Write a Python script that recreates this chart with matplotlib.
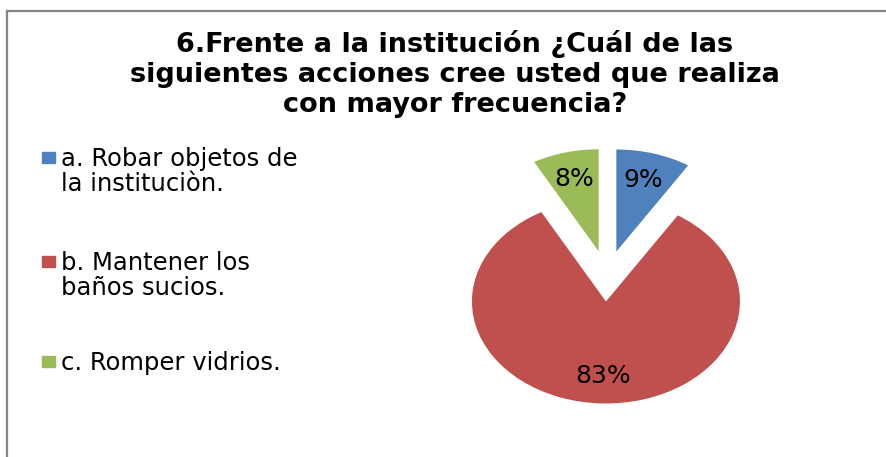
import matplotlib
matplotlib.use("Agg")
import matplotlib.pyplot as plt
from matplotlib.patches import Rectangle
from matplotlib.lines import Line2D

W, H = 887, 457

title = "6.Frente a la institución ¿Cuál de las\nsiguientes acciones cree usted que realiza\ncon mayor frecuencia?"
labels = ["a. Robar objetos de\nla instituciòn.", "b. Mantener los\nbaños sucios.", "c. Romper vidrios."]
values = [9, 83, 8]
colors = ["#4F81BD", "#C0504D", "#9BBB59"]

plt.rcParams['font.family'] = ['DejaVu Sans']

fig = plt.figure(figsize=(W / 100, H / 100), dpi=100)
fig.patch.set_facecolor("white")

# chart frame (only top and left edges visible)
fig.add_artist(Line2D([7 / W, 7 / W], [0, 1 - 11 / H], color="#868686", lw=1.6))
fig.add_artist(Line2D([7 / W, 1], [1 - 11 / H, 1 - 11 / H], color="#868686", lw=1.6))

fig.text(455 / W, 1 - 74 / H, title, ha="center", va="center",
         fontsize=19.5, fontweight="bold", linespacing=1.2)

# pie, stretched horizontally like the original
ax = fig.add_axes([(607 - 167.5) / W, (H - 276 - 127.5) / H, 335 / W, 255 / H])
wedges, texts, autotexts = ax.pie(values, colors=colors, startangle=90, counterclock=False,
                                  explode=[0.25, 0.25, 0.25], autopct="%1.0f%%",
                                  pctdistance=0.73, textprops={"fontsize": 18, "color": "black"})
ax.set_aspect("auto")
ax.set_xlim(-1.25, 1.25)
ax.set_ylim(-1.25, 1.25)
ax.axis("off")

# legend
legend_y = [158, 262, 362]
for lab, col, y in zip(labels, colors, legend_y):
    fig.add_artist(Rectangle((42 / W, 1 - (y + 5) / H), 13 / W, 11 / H,
                             transform=fig.transFigure, color=col))
    fig.text(61 / W, 1 - (y - 11) / H, lab, ha="left", va="top", fontsize=17.5,
             linespacing=1.05)

fig.savefig("out.png", dpi=100)
